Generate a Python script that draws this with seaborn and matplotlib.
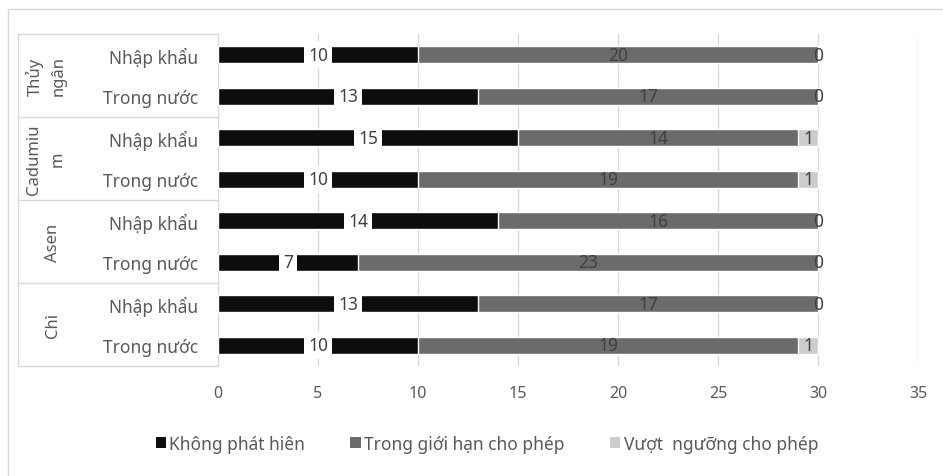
import numpy as np
import pandas as pd
import matplotlib
matplotlib.use("Agg")
import matplotlib.pyplot as plt
import matplotlib.transforms as mtransforms
from matplotlib.lines import Line2D
from matplotlib.patches import Patch
import seaborn as sns

# --- data ---
metals = ["Thủy\nngân", "Cadumiu\nm", "Asen", "Chì"]
origins = ["Nhập khẩu", "Trong nước"]
not_detected = [10, 13, 15, 10, 14, 7, 13, 10]
within_limit = [20, 17, 14, 19, 16, 23, 17, 19]
over_limit = [0, 0, 1, 1, 0, 0, 0, 1]
series_names = ["Không phát hiên", "Trong giới hạn cho phép", "Vượt  ngưỡng cho phép"]
colors = ["#0d0d0d", "#6b6b6b", "#cccccc"]
xticks = [0, 5, 10, 15, 20, 25, 30, 35]

sns.set_style("white")
plt.rcParams["font.family"] = ["Noto Sans", "DejaVu Sans"]
text_col = "#595959"
grid_col = "#d9d9d9"

rows = [f"{m}|{o}" for m in metals for o in origins]
df = pd.DataFrame({
    "row": rows,
    "a": not_detected,
    "b": within_limit,
    "c": over_limit,
})
df["ab"] = df["a"] + df["b"]
df["abc"] = df["ab"] + df["c"]

fig = plt.figure(figsize=(9.43, 4.77), dpi=100)
ax = fig.add_axes([218 / 943, 1 - 367 / 477, 700 / 943, 332 / 477])

# stacked by overlaying cumulative totals
sns.barplot(data=df, x="abc", y="row", color=colors[2], width=0.4, ax=ax, saturation=1, zorder=2)
sns.barplot(data=df, x="ab", y="row", color=colors[1], width=0.4, ax=ax, saturation=1, zorder=3)
sns.barplot(data=df, x="a", y="row", color=colors[0], width=0.4, ax=ax, saturation=1, zorder=4)

ax.set_xlim(0, 35)
ax.set_ylim(len(rows) - 0.5, -0.5)
ax.set_xticks(xticks)
ax.set_xticklabels([str(t) for t in xticks], color=text_col, fontsize=11.5)
ax.set_yticks(range(len(rows)))
ax.set_yticklabels([r.split("|")[1] for r in rows], color=text_col, fontsize=12.5)
ax.tick_params(axis="both", length=0)
ax.tick_params(axis="y", pad=14)
ax.tick_params(axis="x", pad=14)
ax.set_xlabel("")
ax.set_ylabel("")
ax.xaxis.grid(True, color=grid_col, linewidth=1, zorder=0)
ax.set_axisbelow(True)
for s in ["top", "right", "bottom"]:
    ax.spines[s].set_visible(False)
ax.spines["left"].set_color(grid_col)

# data labels
lab_col = "#404040"
for i in range(len(rows)):
    a, b, c = not_detected[i], within_limit[i], over_limit[i]
    ax.text(a / 2, i, str(a), ha="center", va="center", fontsize=12.5, color=lab_col, zorder=6,
            bbox=dict(boxstyle="square,pad=0.25", fc="white", ec="none"))
    ax.text(a + b / 2, i, str(b), ha="center", va="center", fontsize=12.5, color=lab_col, zorder=6)
    ax.text(a + b + c / 2, i, str(c), ha="center", va="center", fontsize=12.5, color=lab_col, zorder=6)

# category table
trans = mtransforms.blended_transform_factory(ax.transAxes, ax.transData)
x_left = (18 - 218) / 700
for k in range(len(metals) + 1):
    y = -0.5 + 2 * k
    ax.add_line(Line2D([x_left, 0], [y, y], transform=trans, color=grid_col, lw=1, clip_on=False))
ax.add_line(Line2D([x_left, x_left], [-0.5, len(rows) - 0.5], transform=trans, color=grid_col, lw=1, clip_on=False))
for k, m in enumerate(metals):
    xpos = (46 - 218) / 700 if "\n" in m else (53 - 218) / 700
    ax.text(xpos, 2 * k + 0.5, m, transform=trans, rotation=90, ha="center", va="center",
            fontsize=12, color=text_col, linespacing=1.6, multialignment="center")

# chart border
fig.add_artist(Line2D([8 / 943, 8 / 943], [0, 1 - 10 / 477], transform=fig.transFigure, color=grid_col, lw=1))
fig.add_artist(Line2D([8 / 943, 1], [1 - 10 / 477, 1 - 10 / 477], transform=fig.transFigure, color=grid_col, lw=1))

handles = [Patch(facecolor=c, edgecolor="none") for c in colors]
fig.legend(handles, series_names, loc="center", bbox_to_anchor=(487 / 943, 1 - 445 / 477), ncol=3,
           frameon=False, fontsize=12.5, handlelength=0.6, handleheight=0.6, handletextpad=0.2,
           columnspacing=2.6, labelcolor=text_col)

fig.savefig("out.png", dpi=100)
